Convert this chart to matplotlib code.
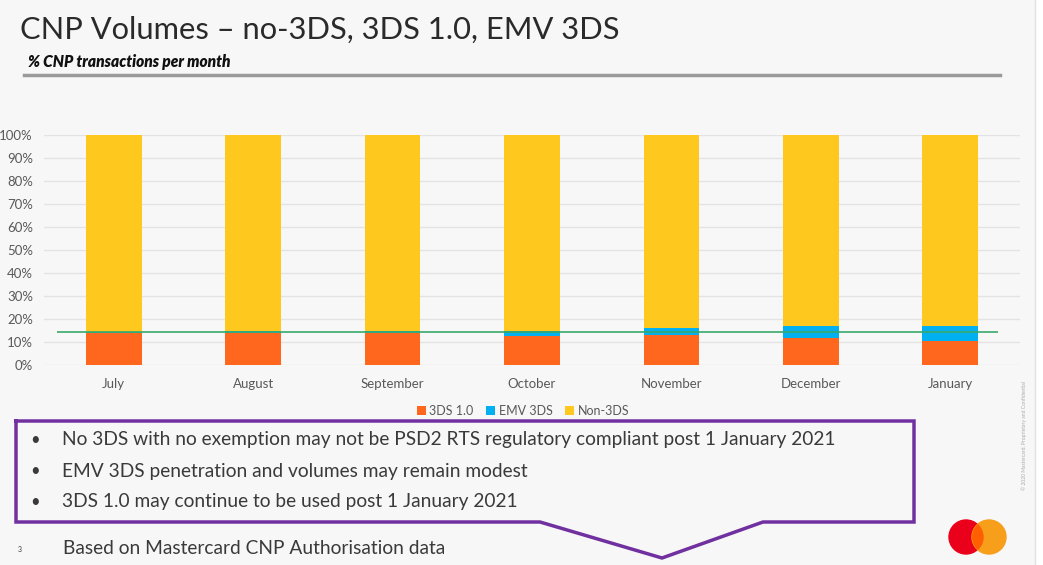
import numpy as np
import matplotlib.pyplot as plt
from matplotlib.patches import Ellipse
from matplotlib.lines import Line2D

months = ['July', 'August', 'September', 'October', 'November', 'December', 'January']
three_ds_10 = [13.7, 14.0, 13.8, 12.6, 12.9, 11.5, 10.4]
emv_3ds = [0.4, 0.6, 0.7, 2.0, 3.2, 5.2, 6.6]
non_3ds = [85.9, 85.4, 85.5, 85.4, 83.9, 83.3, 83.0]
ref_level = 14.3
series_names = ['3DS 1.0', 'EMV 3DS', 'Non-3DS']
bullets = ['No 3DS with no exemption may not be PSD2 RTS regulatory compliant post 1 January 2021',
           'EMV 3DS penetration and volumes may remain modest',
           '3DS 1.0 may continue to be used post 1 January 2021']

plt.rcParams['font.family'] = ['Lato', 'DejaVu Sans']
bg = '#f7f7f7'
c_orange = '#ff671f'
c_blue = '#00b0f0'
c_yellow = '#ffc81e'
grey_txt = '#595959'
body_txt = '#3a3a3a'

fig = plt.figure(figsize=(10.43, 5.65), dpi=100, facecolor=bg)
W, H = 1043, 565


def fx(px):
    return px / W


def fy(py):
    return 1 - py / H


# title block
fig.text(fx(20), fy(30), 'CNP Volumes \u2013 no-3DS, 3DS 1.0, EMV 3DS', fontsize=22.2,
         color='#2a2a2a', va='center', ha='left')
fig.text(fx(28), fy(62), '% CNP transactions per month', fontsize=11.2, fontweight='heavy',
         fontstyle='italic', color='#111111', va='center', ha='left')
fig.add_artist(Line2D([fx(24), fx(1000)], [fy(75), fy(75)], color='#9a9a9a', lw=2.5))

# chart
ax = fig.add_axes([fx(44), fy(364.7), fx(1020 - 44), (364.7 - 135) / H])
ax.set_facecolor(bg)
x = np.arange(len(months))
w = 0.4
b1 = ax.bar(x, three_ds_10, w, color=c_orange, label=series_names[0], zorder=2)
b2 = ax.bar(x, emv_3ds, w, bottom=three_ds_10, color=c_blue, label=series_names[1], zorder=2)
bottom2 = np.array(three_ds_10) + np.array(emv_3ds)
b3 = ax.bar(x, non_3ds, w, bottom=bottom2, color=c_yellow, label=series_names[2], zorder=2)
ax.hlines(ref_level, -0.41, 6.34, color='#3aa86b', lw=1.2, zorder=3)

ax.set_xlim(-0.5, len(months) - 0.5)
ax.set_ylim(0, 100)
ax.set_yticks(np.arange(0, 101, 10))
ax.set_yticklabels([f'{v}%' for v in range(0, 101, 10)])
ax.set_xticks(x)
ax.set_xticklabels(months)
ax.grid(axis='y', color='#e3e3e3', lw=1, zorder=0)
for s in ax.spines.values():
    s.set_visible(False)
ax.tick_params(length=0, colors=grey_txt, labelsize=9.5)
ax.tick_params(axis='x', pad=9.5)
ax.tick_params(axis='y', pad=8)

leg = fig.legend(handles=[b1, b2, b3], labels=series_names, loc='center',
                 bbox_to_anchor=(fx(523), fy(411)), ncol=3, frameon=False, fontsize=9,
                 handlelength=0.7, handleheight=0.7, handletextpad=0.3, columnspacing=1.0,
                 borderpad=0)
for t in leg.get_texts():
    t.set_color(grey_txt)

# purple callout box
box_x = [fx(16), fx(914), fx(914), fx(763), fx(662), fx(540), fx(16), fx(16)]
box_y = [fy(421), fy(421), fy(522), fy(522), fy(558), fy(522), fy(522), fy(421)]
fig.add_artist(Line2D(box_x, box_y, color='#7030a0', lw=2.5, solid_joinstyle='miter'))

for i, line in enumerate(bullets):
    yy = fy(440 + i * 31)
    fig.text(fx(30), yy, '\u2022', fontsize=12, color=body_txt, va='center')
    fig.text(fx(62), yy, line, fontsize=13.8, color=body_txt, va='center')

fig.text(fx(18), fy(549), '3', fontsize=5, color=body_txt, va='center')
fig.text(fx(63), fy(549), 'Based on Mastercard CNP Authorisation data', fontsize=13.8,
         color=body_txt, va='center')

# right edge
fig.text(fx(1024), fy(435), '\u00a9 2020 Mastercard. Proprietary and Confidential', fontsize=3.6,
         color='#aaaaaa', rotation=90, va='center', ha='center')
fig.add_artist(Line2D([fx(1035), fx(1035)], [0, 1], color='#e2e2e2', lw=1))
fig.patches.append(plt.Rectangle((fx(1036), 0), 1 - fx(1036), 1, transform=fig.transFigure,
                                 color='white', zorder=0))

# logo
r = 17
red = Ellipse((fx(966), fy(537)), 2 * r / W, 2 * r / H, transform=fig.transFigure,
              color='#eb001b', zorder=5)
orange = Ellipse((fx(989), fy(537)), 2 * r / W, 2 * r / H, transform=fig.transFigure,
                 color='#f79e1b', zorder=5)
fig.add_artist(red)
fig.add_artist(orange)
ov = Ellipse((fx(966), fy(537)), 2 * r / W, 2 * r / H, transform=fig.transFigure,
             color='#ff5f00', zorder=6)
fig.add_artist(ov)
ov.set_clip_path(orange)

fig.savefig('out.png', dpi=100, facecolor=bg)
